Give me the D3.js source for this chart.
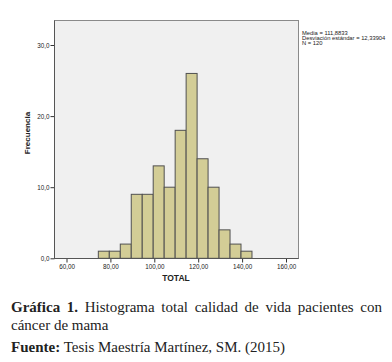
<!DOCTYPE html>
<html>
<head>
<meta charset="utf-8">
<script src="https://cdn.jsdelivr.net/npm/d3@7"></script>
<style>
  body { margin: 0; background: #fff; }
  svg { display: block; }
</style>
</head>
<body>
<svg width="392" height="362"></svg>
<script>
// histogram bins (lower edge) and counts
var binStarts = [74.5, 79.5, 84.5, 89.5, 94.5, 99.5, 104.5, 109.5, 114.5, 119.5, 124.5, 129.5, 134.5, 139.5];
var binWidth = 5;
var counts = [1, 1, 2, 9, 9, 13, 10, 18, 26, 14, 10, 4, 2, 1];
var xTicks = [60, 80, 100, 120, 140, 160];
var yTicks = [0, 10, 20, 30];
var statsLines = ["Media = 111,8833", "Desviación estándar = 12,33904", "N = 120"];

var svg = d3.select("svg");
var fmtX = function(d){ return d3.format(".2f")(d).replace(".", ","); };
var fmtY = function(d){ return d3.format(".1f")(d).replace(".", ","); };

var x = d3.scaleLinear().domain([60, 160]).range([66.5, 286]);
var y = d3.scaleLinear().domain([0, 30]).range([258.3, 45]);

var plot = {left: 54.5, right: 298.5, top: 20.5, bottom: 258.5};

svg.append("rect")
    .attr("x", plot.left)
    .attr("y", plot.top)
    .attr("width", plot.right - plot.left)
    .attr("height", plot.bottom - plot.top)
    .attr("fill", "#f0f0f0")
    .attr("stroke", "#8a8a8a")
    .attr("stroke-width", 1);

svg.append("g").selectAll("rect")
    .data(counts)
    .enter().append("rect")
      .attr("x", function(d, i){ return x(binStarts[i]); })
      .attr("y", function(d){ return y(d); })
      .attr("width", function(d, i){ return x(binStarts[i] + binWidth) - x(binStarts[i]); })
      .attr("height", function(d){ return y(0) - y(d); })
      .attr("fill", "#d3cd96")
      .attr("stroke", "#505050")
      .attr("stroke-width", 1);

// axes
var xAxis = d3.axisBottom(x).tickValues(xTicks).tickFormat(fmtX).tickSize(4).tickSizeOuter(0);
var yAxis = d3.axisLeft(y).tickValues(yTicks).tickFormat(fmtY).tickSize(4).tickSizeOuter(0);

var gx = svg.append("g")
    .attr("transform", "translate(0," + plot.bottom + ")")
    .call(xAxis);
gx.select(".domain").remove();
gx.selectAll("line").attr("stroke", "#333");
gx.selectAll("text")
    .attr("y", 6)
    .attr("fill", "#222")
    .style("font", "6.3px 'Liberation Sans', Arial, sans-serif");

var gy = svg.append("g")
    .attr("transform", "translate(" + plot.left + ",0)")
    .call(yAxis);
gy.select(".domain").remove();
gy.selectAll("line").attr("stroke", "#333");
gy.selectAll("text")
    .attr("x", -5)
    .attr("fill", "#222")
    .style("font", "6.3px 'Liberation Sans', Arial, sans-serif");

// axis lines
svg.append("line")
    .attr("x1", plot.left).attr("x2", plot.left)
    .attr("y1", plot.top).attr("y2", plot.bottom)
    .attr("stroke", "#555");
svg.append("line")
    .attr("x1", plot.left).attr("x2", plot.right)
    .attr("y1", plot.bottom).attr("y2", plot.bottom)
    .attr("stroke", "#555");

svg.append("text")
    .attr("transform", "translate(30,133) rotate(-90)")
    .attr("text-anchor", "middle")
    .style("font", "bold 8px 'Liberation Sans', Arial, sans-serif")
    .attr("fill", "#222")
    .text("Frecuencia");

svg.append("text")
    .attr("x", 176)
    .attr("y", 280.5)
    .attr("text-anchor", "middle")
    .style("font", "bold 8.5px 'Liberation Sans', Arial, sans-serif")
    .attr("fill", "#222")
    .text("TOTAL");

svg.append("g").selectAll("text")
    .data(statsLines)
    .enter().append("text")
      .attr("x", 302)
      .attr("y", function(d, i){ return 34.5 + i * 5; })
      .style("font", "5.8px 'Liberation Sans', Arial, sans-serif")
      .attr("fill", "#222")
      .text(function(d){ return d; });

// caption
var cap = svg.append("g").style("font", "15px 'Liberation Serif', 'Times New Roman', serif").attr("fill", "#222");

function justified(words, x0, x1, yy){
  var t = cap.append("text").attr("y", yy);
  var spans = words.map(function(w){
    return t.append("tspan").style("font-weight", w.bold ? "bold" : null).text(w.t);
  });
  var widths = spans.map(function(s){ return s.node().getComputedTextLength(); });
  var total = d3.sum(widths);
  var gap = (x1 - x0 - total) / (words.length - 1);
  var cx = x0;
  spans.forEach(function(s, i){ s.attr("x", cx); cx += widths[i] + gap; });
}

justified([
  {t: "Gráfica", bold: true}, {t: "1.", bold: true}, {t: "Histograma"}, {t: "total"},
  {t: "calidad"}, {t: "de"}, {t: "vida"}, {t: "pacientes"}, {t: "con"}
], 11, 382, 311.5);

cap.append("text").attr("x", 11).attr("y", 330).text("cáncer de mama");

var f = cap.append("text").attr("x", 11).attr("y", 351.5);
f.append("tspan").style("font-weight", "bold").text("Fuente:");
f.append("tspan").text(" Tesis Maestría Martínez, SM. (2015)");
</script>
</body>
</html>
